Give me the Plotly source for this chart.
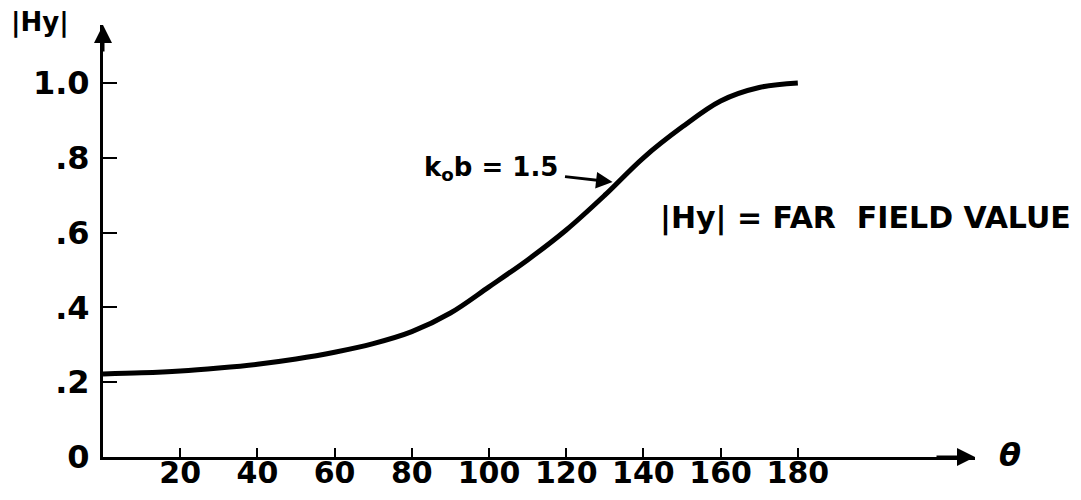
import plotly.graph_objects as go

# Data
theta = [0, 10, 20, 30, 40, 50, 60, 70, 80, 90, 100, 110, 120, 130, 140, 150, 160, 170, 180]
hy = [0.222, 0.225, 0.230, 0.238, 0.248, 0.262, 0.280, 0.303, 0.335, 0.385, 0.455,
      0.527, 0.607, 0.700, 0.800, 0.882, 0.952, 0.988, 1.000]

x_tickvals = [20, 40, 60, 80, 100, 120, 140, 160, 180]
x_ticktext = ["20", "40", "60", "80", "100", "120", "140", "160", "180"]
y_tickvals = [0, 0.2, 0.4, 0.6, 0.8, 1.0]
y_ticktext = ["0", ".2", ".4", ".6", ".8", "1.0"]

FONT = "DejaVu Sans"
INK = "#000000"

fig = go.Figure()
fig.add_trace(go.Scatter(
    x=theta, y=hy, mode="lines",
    line=dict(color=INK, width=5, shape="spline", smoothing=1.0),
    hoverinfo="skip", showlegend=False,
))

# page body has an 8px margin, so the figure is sized to fit inside the window
fig.update_layout(
    width=1065, height=484,
    margin=dict(l=95, r=98, t=17, b=35),
    paper_bgcolor="white", plot_bgcolor="white",
    showlegend=False,
    xaxis=dict(
        range=[0, 225.9], showgrid=False, zeroline=False, automargin=False,
        showline=True, linecolor=INK, linewidth=3,
        ticks="inside", ticklen=9, tickwidth=2, tickcolor=INK,
        tickvals=x_tickvals, ticktext=x_ticktext,
        tickfont=dict(family=FONT, size=30, color=INK, weight="bold"),
        ticklabelstandoff=-13,
    ),
    yaxis=dict(
        range=[0, 1.155], showgrid=False, zeroline=False, automargin=False,
        showline=True, linecolor=INK, linewidth=3,
        ticks="inside", ticklen=14, tickwidth=2, tickcolor=INK,
        tickvals=y_tickvals, ticktext=y_ticktext,
        tickfont=dict(family=FONT, size=32, color=INK, weight="bold"),
        ticklabelstandoff=4,
    ),
)

# axis arrowheads
fig.add_annotation(xref="paper", yref="paper", x=0, y=1, ax=0, ay=28,
                   text="", showarrow=True, arrowhead=2, arrowsize=1.2,
                   arrowwidth=3, arrowcolor=INK)
fig.add_annotation(xref="paper", yref="paper", x=1, y=0, ax=-40, ay=0,
                   text="", showarrow=True, arrowhead=2, arrowsize=1.2,
                   arrowwidth=3, arrowcolor=INK)

# axis titles
fig.add_annotation(xref="paper", yref="paper", x=-0.072, y=1.005,
                   xanchor="center", yanchor="middle", showarrow=False,
                   text="|Hy|", font=dict(family=FONT, size=26, color=INK, weight="bold"))
fig.add_annotation(xref="paper", yref="paper", x=1.04, y=0.005,
                   xanchor="center", yanchor="middle", showarrow=False,
                   text="<i>θ</i>", font=dict(family=FONT, size=32, color=INK, weight="bold"))

# curve label with pointer to the curve
fig.add_annotation(xref="x", yref="y", x=132, y=0.735, ax=-122, ay=-14,
                   text="k<sub>o</sub>b = 1.5", showarrow=True,
                   arrowhead=2, arrowsize=1.1, arrowwidth=3, arrowcolor=INK,
                   standoff=0, startstandoff=6,
                   font=dict(family=FONT, size=26, color=INK, weight="bold"))

fig.add_annotation(xref="paper", yref="paper", x=0.636, y=0.553,
                   xanchor="left", yanchor="middle", showarrow=False,
                   text="|Hy| = FAR\u00a0\u00a0FIELD\u00a0VALUE",
                   font=dict(family=FONT, size=30, color=INK, weight="bold"))

fig.write_html("out.html")
